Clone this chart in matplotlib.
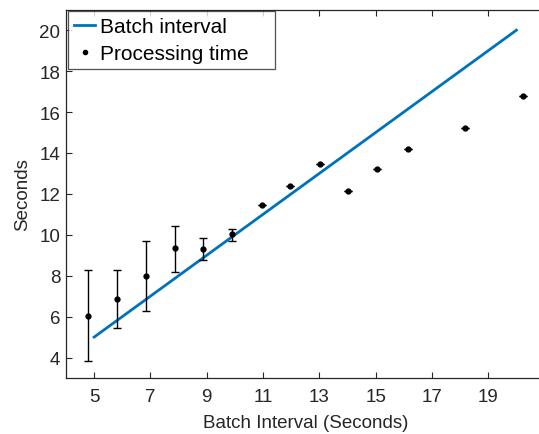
import matplotlib
matplotlib.use("Agg")
import matplotlib.pyplot as plt

plt.rcParams["font.family"] = ["Liberation Sans", "DejaVu Sans"]

# batch interval line
line_x = [5, 20]
line_y = [5, 20]

# processing time points
proc_x = [4.8, 5.83, 6.84, 7.87, 8.87, 9.9, 10.95, 11.95, 13.02, 14.03, 15.04, 16.14, 18.17, 20.22]
proc_y = [6.03, 6.85, 7.99, 9.33, 9.29, 10.03, 11.44, 12.36, 13.48, 12.14, 13.20, 14.17, 15.21, 16.76]
err_lo = [2.20, 1.43, 1.71, 1.13, 0.50, 0.33, 0, 0, 0, 0, 0, 0, 0, 0]
err_hi = [2.24, 1.43, 1.71, 1.10, 0.53, 0.27, 0, 0, 0, 0, 0, 0, 0, 0]

xticks = [5, 7, 9, 11, 13, 15, 17, 19]
yticks = [4, 6, 8, 10, 12, 14, 16, 18, 20]

axis_col = "#262626"

fig = plt.figure(figsize=(5.39, 4.35), dpi=100)
ax = fig.add_axes([0.1224, 0.1287, 0.888, 0.8467])

ax.plot(line_x, line_y, color="#0072BD", linewidth=2.0, label="Batch interval")
ax.errorbar(proc_x, proc_y, yerr=[err_lo, err_hi], fmt="o", color="black",
            markersize=3.5, elinewidth=1.0, capsize=2.8, capthick=1.0,
            label="Processing time")

ax.set_xlim(4, 21)
ax.set_ylim(3, 21)
ax.set_xticks(xticks)
ax.set_yticks(yticks)
ax.tick_params(direction="in", top=True, right=True, labelsize=13.5,
               colors=axis_col, length=4)
ax.tick_params(axis="x", pad=7)
ax.tick_params(axis="y", pad=4)
for s in ax.spines.values():
    s.set_color(axis_col)
    s.set_linewidth(0.9)

ax.set_xlabel("Batch Interval (Seconds)", fontsize=13.5, color=axis_col, labelpad=7)
ax.set_ylabel("Seconds", fontsize=13.5, color=axis_col, labelpad=6)

handles, labels = ax.get_legend_handles_labels()
handles[1] = plt.Line2D([], [], marker="o", linestyle="none", color="black", markersize=3)
leg = ax.legend(handles, labels, loc="upper left", bbox_to_anchor=(0.004, 0.9965, 0.4325, 0),
                mode="expand", fontsize=15, frameon=True,
                fancybox=False, edgecolor=axis_col, handlelength=1.0,
                handletextpad=0.25, borderaxespad=0, borderpad=0.3,
                labelspacing=0.38)
leg.get_frame().set_linewidth(0.9)

fig.savefig("out.png", dpi=100)
